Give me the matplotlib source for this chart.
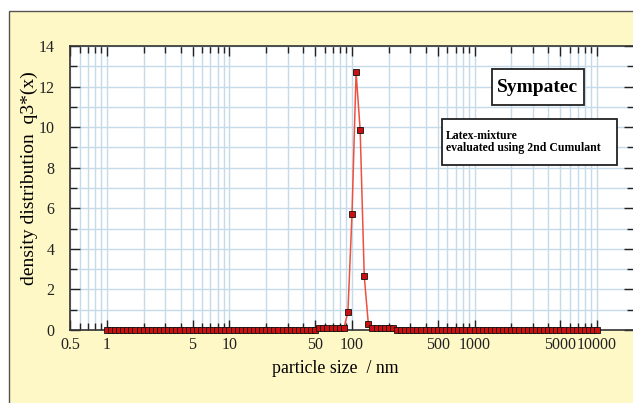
import numpy as np
import matplotlib
matplotlib.use("Agg")
import matplotlib.pyplot as plt
from matplotlib.patches import Rectangle
from matplotlib.ticker import FixedLocator, NullFormatter

# size classes of the instrument, 30 per decade from 1 nm to 10000 nm
size_classes = 10 ** (np.arange(121) / 30)

# density q3*(x), one value per size class
density = ([0.0] * 52
           + [0.08] * 7
           + [0.9, 5.7, 12.7, 9.85, 2.65, 0.3]
           + [0.08] * 6
           + [0.0] * 50)

x_tick_values = [0.5, 1, 5, 10, 50, 100, 500, 1000, 5000, 10000]
x_tick_labels = ["0.5", "1", "5", "10", "50", "100", "500", "1000", "5000", "10000"]
y_tick_values = [0, 2, 4, 6, 8, 10, 12, 14]

plt.rcParams["font.family"] = ["Liberation Serif", "DejaVu Serif"]

fig = plt.figure(figsize=(6.33, 4.03), dpi=100)
fig.patch.set_facecolor("white")

# yellow panel behind the chart
panel = Rectangle((9 / 633, -0.05), 1.2, (403 - 11) / 403 + 0.05,
                  transform=fig.transFigure, facecolor="#fef7c6",
                  edgecolor="#555555", linewidth=1.0, zorder=-5)
fig.patches.append(panel)

ax = fig.add_axes([70 / 633, 73 / 403, 564 / 633, 284 / 403])
ax.set_zorder(1)
ax.set_facecolor("white")
ax.set_xscale("log")
ax.set_xlim(0.5, 20000)
ax.set_ylim(0, 14)

# ticks
minor_x = []
for dec in [0.1, 1, 10, 100, 1000, 10000]:
    for m in range(1, 10):
        v = m * dec
        if 0.5 <= v <= 20000 and v not in x_tick_values:
            minor_x.append(v)
ax.xaxis.set_major_locator(FixedLocator(x_tick_values))
ax.set_xticklabels(x_tick_labels)
ax.xaxis.set_minor_locator(FixedLocator(minor_x))
ax.xaxis.set_minor_formatter(NullFormatter())
ax.set_yticks(y_tick_values)
ax.yaxis.set_minor_locator(FixedLocator(range(1, 14, 2)))
ax.tick_params(which="both", direction="in", top=True, right=True,
               labelsize=11.5, colors="#222222", width=1.0)
ax.tick_params(which="major", length=7)
ax.tick_params(which="minor", length=5)
ax.tick_params(axis="x", pad=5)
ax.tick_params(axis="y", pad=11)

# light blue grid
ax.grid(True, which="both", axis="x", color="#c6dbe9", linewidth=1.0)
ax.yaxis.grid(True, which="both", color="#c6dbe9", linewidth=1.0)
ax.set_axisbelow(True)
for s in ax.spines.values():
    s.set_color("#333333")
    s.set_linewidth(1.2)

ax.plot(size_classes, density, color="#ee5040", linewidth=1.1,
        marker="s", markersize=4.5, markerfacecolor="#cc1010",
        markeredgecolor="#111111", markeredgewidth=0.6, zorder=3,
        clip_on=False)

ax.set_xlabel("particle size  / nm", fontsize=12.8)
ax.xaxis.set_label_coords(0.47, -0.105)
ax.set_ylabel("density distribution  q3*(x)", fontsize=14)
ax.yaxis.set_label_coords(-0.057, 0.535)

# annotation boxes
ax.add_artist(Rectangle((492 / 633, (403 - 105) / 403), 92 / 633, 36 / 403,
                        transform=fig.transFigure, facecolor="white",
                        edgecolor="#222222", linewidth=1.3, zorder=4,
                        clip_on=False))
ax.add_artist(Rectangle((442 / 633, (403 - 165) / 403), 175 / 633, 46 / 403,
                        transform=fig.transFigure, facecolor="white",
                        edgecolor="#222222", linewidth=1.3, zorder=4,
                        clip_on=False))
ax.text(538 / 633, (403 - 87) / 403, "Sympatec", transform=fig.transFigure,
        fontsize=14, fontweight="bold", ha="center", va="center", zorder=5)
ax.text(446 / 633, (403 - 142) / 403,
        "Latex-mixture\nevaluated using 2nd Cumulant",
        transform=fig.transFigure, fontsize=8.5, fontweight="bold",
        ha="left", va="center", linespacing=1.1, zorder=5)

fig.savefig("out.png", dpi=100)
